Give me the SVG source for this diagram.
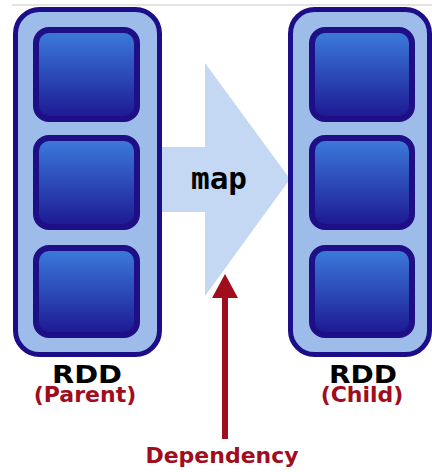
<svg xmlns="http://www.w3.org/2000/svg" width="432" height="472" viewBox="0 0 432 472">
  <defs>
    <linearGradient id="cellFill" x1="0" y1="0" x2="0" y2="1">
      <stop offset="0" stop-color="#3d7cdb"/>
      <stop offset="0.55" stop-color="#2a45b4"/>
      <stop offset="1" stop-color="#1d1790"/>
    </linearGradient>
  </defs>
  <style>
    .frame { fill: #9ebcea; stroke: #1c0d88; stroke-width: 5; }
    .cell { fill: url(#cellFill); stroke: #1e0f86; stroke-width: 6; }
    .title { font-family: "DejaVu Sans", Verdana, sans-serif; font-weight: bold; font-size: 25px; fill: #000; text-anchor: middle; }
    .sub { font-family: "DejaVu Sans", Verdana, sans-serif; font-weight: bold; font-size: 22px; fill: #a00d1c; text-anchor: middle; }
    .op { font-family: "DejaVu Sans Mono", "Liberation Mono", monospace; font-weight: bold; font-size: 31px; fill: #000; }
    .dep { stroke: #a00d1c; stroke-width: 6; fill: none; }
    .dep-head { fill: #a00d1c; }
  </style>

  <rect width="432" height="472" fill="#ffffff"/>
  <line x1="12" y1="5" x2="432" y2="5" stroke="#c9c9c9" stroke-width="1"/>

  <g id="connectors">
    <!-- transformation arrow -->
    <path d="M160,147 L205,147 L205,63 L290,179 L205,296 L205,212 L160,212 Z" fill="#c4d7f3"/>
    <!-- dependency arrow -->
    <line class="dep" x1="225" y1="439" x2="225" y2="294"/>
    <path class="dep-head" d="M212,298 L225,274 L238,298 Z"/>
  </g>

  <g id="parent-rdd">
    <rect class="frame" x="15.5" y="9.5" width="144" height="345" rx="24"/>
    <rect class="cell" x="36" y="30" width="101" height="89" rx="13"/>
    <rect class="cell" x="36" y="138" width="101" height="89" rx="13"/>
    <rect class="cell" x="36" y="248" width="101" height="87" rx="13"/>
    <text class="title" x="87" y="383" textLength="70" lengthAdjust="spacingAndGlyphs">RDD</text>
    <text class="sub" x="85" y="402">(Parent)</text>
  </g>

  <g id="child-rdd">
    <rect class="frame" x="290.5" y="9.5" width="139" height="345" rx="24"/>
    <rect class="cell" x="312" y="30" width="100" height="89" rx="13"/>
    <rect class="cell" x="312" y="138" width="100" height="89" rx="13"/>
    <rect class="cell" x="312" y="248" width="100" height="87" rx="13"/>
    <text class="title" x="363" y="383" textLength="68" lengthAdjust="spacingAndGlyphs">RDD</text>
    <text class="sub" x="362" y="402">(Child)</text>
  </g>

  <g id="map-label">
    <text class="op" x="191" y="189">map</text>
  </g>

  <g id="dependency-label">
    <text class="sub" x="222" y="463">Dependency</text>
  </g>
</svg>
